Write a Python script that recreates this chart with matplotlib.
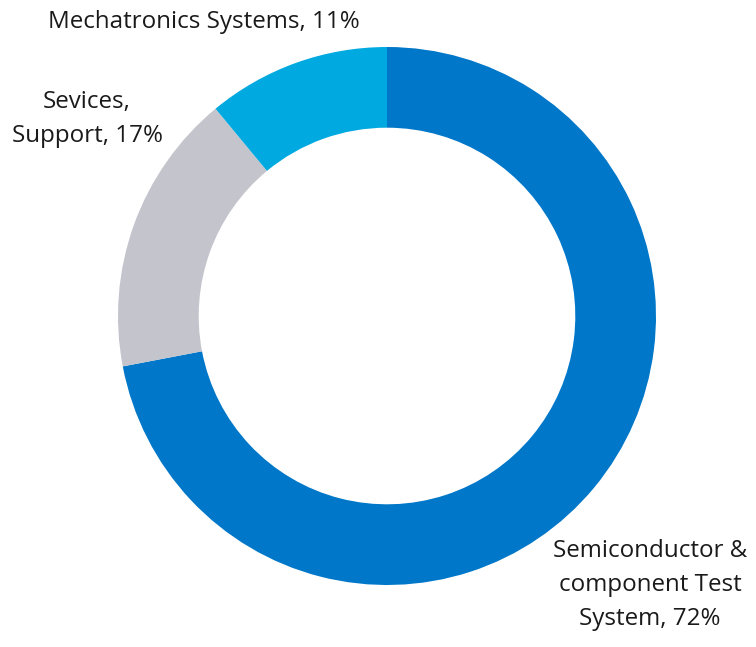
import matplotlib
matplotlib.use("Agg")
import matplotlib.pyplot as plt

# Datos del gráfico
labels = ["Semiconductor &\ncomponent Test\nSystem, 72%", "Sevices,\nSupport, 17%", "Mechatronics Systems, 11%"]
shares = [72, 17, 11]
colors = ["#0077C8", "#C3C4CC", "#00A9E0"]

plt.rcParams["font.family"] = ["Open Sans", "DejaVu Sans"]

W, H = 756, 647
cx, cy, R = 387, 316, 269

fig = plt.figure(figsize=(W / 100, H / 100), dpi=100)
ax = fig.add_axes([0, 0, 1, 1])

ax.pie(shares, colors=colors, startangle=90, counterclock=False, radius=1,
       wedgeprops=dict(width=0.3, edgecolor="none"))

ax.set_xlim(-cx / R, (W - cx) / R)
ax.set_ylim(-(H - cy) / R, cy / R)
ax.set_aspect("equal")
ax.axis("off")

def px(x, y):
    return (x - cx) / R, (cy - y) / R

# Etiquetas
ax.text(*px(650, 585), labels[0], ha="center", va="center", fontsize=17.4,
        color="#1a1a1a", linespacing=1.55)
ax.text(*px(87, 119), labels[1], ha="center", va="center", fontsize=17.4,
        color="#1a1a1a", linespacing=1.55)
ax.text(*px(204, 22), labels[2], ha="center", va="center", fontsize=17.4,
        color="#1a1a1a")

fig.savefig("out.png", dpi=100)
